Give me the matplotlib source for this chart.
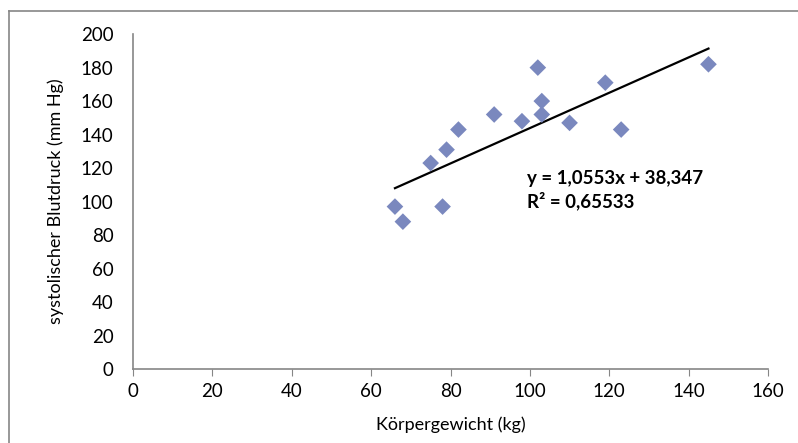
import matplotlib.pyplot as plt
import numpy as np
from matplotlib.lines import Line2D

plt.rcParams['font.family'] = ['Lato', 'DejaVu Sans']

# Körpergewicht (kg) und systolischer Blutdruck (mm Hg)
gewicht = [66, 68, 78, 75, 79, 82, 91, 98, 102, 103, 103, 110, 119, 123, 145]
blutdruck = [97, 88, 97, 123, 131, 143, 152, 148, 180, 160, 152, 147, 171, 143, 182]

# lineare Trendlinie (Excel)
slope = 1.0553
intercept = 38.347
r2 = 0.65533

fig = plt.figure(figsize=(7.98, 4.43), dpi=100)
ax = fig.add_axes([0.1667, 0.167, 0.7957, 0.756])

ax.scatter(gewicht, blutdruck, marker='D', s=72, color='#7A88BE', edgecolors='none', zorder=3)

xs = np.array([min(gewicht), max(gewicht)])
ax.plot(xs, slope * xs + intercept, color='black', lw=1.6, zorder=2)

ax.text(99.2, 107, "y = 1,0553x + 38,347\nR² = 0,65533", fontsize=13.5, fontweight='bold',
        va='center', ha='left', linespacing=1.3)

ax.set_xlim(0, 160)
ax.set_ylim(0, 200)
ax.set_xticks(range(0, 161, 20))
ax.set_yticks(range(0, 201, 20))
for side in ['top', 'right']:
    ax.spines[side].set_visible(False)
for side in ['left', 'bottom']:
    ax.spines[side].set_color('#868686')
    ax.spines[side].set_linewidth(1.2)
ax.tick_params(axis='x', direction='out', length=5, color='#868686', labelsize=13.5, pad=5)
ax.tick_params(axis='y', direction='out', length=0, color='#868686', labelsize=13.5, pad=14)

ax.set_xlabel("Körpergewicht (kg)", fontsize=13, labelpad=12)
ax.set_ylabel("systolischer Blutdruck (mm Hg)", fontsize=13, labelpad=12)

# Rahmen (nur links und oben sichtbar)
fig.add_artist(Line2D([9 / 798, 9 / 798], [0, 1 - 11 / 443], transform=fig.transFigure,
                      color='#868686', lw=1.2))
fig.add_artist(Line2D([9 / 798, 1], [1 - 11 / 443, 1 - 11 / 443], transform=fig.transFigure,
                      color='#868686', lw=1.2))

fig.savefig('out.png', dpi=100)
